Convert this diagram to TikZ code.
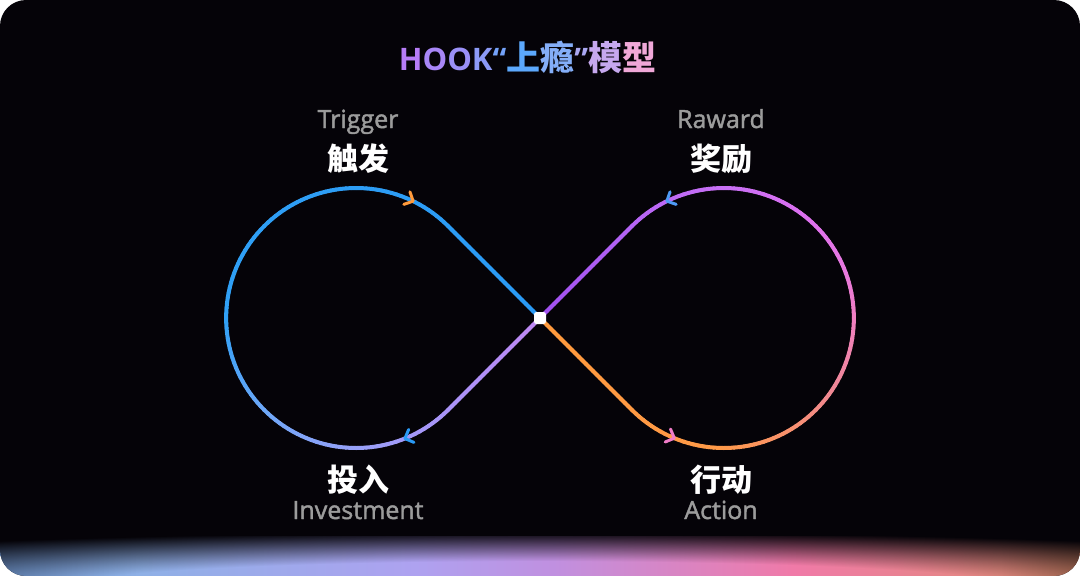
\documentclass[tikz,border=0pt]{standalone}
\usepackage{fontspec}
\newfontfamily\cjk{Noto Sans CJK SC}
\newfontfamily\lat{Open Sans}
\newfontfamily\latm{Open Sans}[FakeBold=1.6]
\usetikzlibrary{calc,fadings}
\definecolor{bg}{HTML}{050308}
\definecolor{labgray}{HTML}{9C9C9C}
% path gradient stops
\definecolor{q0}{HTML}{FF9A3C}
\definecolor{q1}{HTML}{FF9A48}
\definecolor{q2}{HTML}{F89070}
\definecolor{q3}{HTML}{F08898}
\definecolor{q4}{HTML}{F080C0}
\definecolor{q5}{HTML}{E878E0}
\definecolor{q6}{HTML}{DC70F0}
\definecolor{q7}{HTML}{C870F5}
\definecolor{q8}{HTML}{B464F5}
\definecolor{q9}{HTML}{A050F0}
\definecolor{q10}{HTML}{C088F2}
\definecolor{q11}{HTML}{B090F8}
\definecolor{q12}{HTML}{A498F8}
\definecolor{q13}{HTML}{98A0F8}
\definecolor{q14}{HTML}{70A8F8}
\definecolor{q15}{HTML}{30A0F5}
\definecolor{q16}{HTML}{2A9AF5}
% title colours
\definecolor{t1}{HTML}{B67CF7}
\definecolor{t2}{HTML}{A886F7}
\definecolor{t3}{HTML}{9A90F7}
\definecolor{t4}{HTML}{8C9AF7}
\definecolor{t5}{HTML}{74A2F9}
\definecolor{t6}{HTML}{5CA8FC}
\definecolor{t7}{HTML}{84AEF8}
\definecolor{t8}{HTML}{AAA8F2}
\definecolor{t9}{HTML}{C6A8EE}
\definecolor{t10}{HTML}{F0A8D8}
% arrow colours
\definecolor{aorange}{HTML}{FF9A3C}
\definecolor{apink}{HTML}{F07CC8}
\definecolor{ablue}{HTML}{4E9AF5}
\definecolor{ablue2}{HTML}{2A9AF5}
% glow colours
\definecolor{g0}{HTML}{7096CC}
\definecolor{g1}{HTML}{8EB0E6}
\definecolor{g2}{HTML}{AEA2F0}
\definecolor{g3}{HTML}{C090E0}
\definecolor{g4}{HTML}{F07AA8}
\definecolor{g5}{HTML}{E2887E}
\definecolor{g6}{HTML}{C07A5E}
\pgfdeclarehorizontalshading{glowh}{100bp}{color(0bp)=(g0); color(25bp)=(g0); color(31.4bp)=(g1); color(44.2bp)=(g2); color(50.6bp)=(g3); color(61.7bp)=(g4); color(71.3bp)=(g5); color(75bp)=(g6); color(100bp)=(g6)}
\pgfdeclareradialshading{glowmasksh}{\pgfpointorigin}{color(0bp)=(black); color(12bp)=(black); color(25bp)=(white); color(50bp)=(white)}
\tikzfading[name=glowmask, shading=glowmasksh]

\newcommand\pmix[4]{\pgfmathsetmacro\pcP{max(0,min(100,(\pcS-#1)/(#2-#1)*100))}\colorlet{cc}{#4!\pcP!#3}}
\newcommand\pcol[1]{\edef\pcS{#1}%
\ifdim\pcS pt<0.13pt \pmix{0}{0.13}{q0}{q1}\else
\ifdim\pcS pt<0.175pt \pmix{0.13}{0.175}{q1}{q2}\else
\ifdim\pcS pt<0.21pt \pmix{0.175}{0.21}{q2}{q3}\else
\ifdim\pcS pt<0.25pt \pmix{0.21}{0.25}{q3}{q4}\else
\ifdim\pcS pt<0.28pt \pmix{0.25}{0.28}{q4}{q5}\else
\ifdim\pcS pt<0.32pt \pmix{0.28}{0.32}{q5}{q6}\else
\ifdim\pcS pt<0.367pt \pmix{0.32}{0.367}{q6}{q7}\else
\ifdim\pcS pt<0.43pt \pmix{0.367}{0.43}{q7}{q8}\else
\ifdim\pcS pt<0.5pt \pmix{0.43}{0.5}{q8}{q9}\else
\ifdim\pcS pt<0.55pt \pmix{0.5}{0.55}{q10}{q11}\else
\ifdim\pcS pt<0.6pt \pmix{0.55}{0.6}{q11}{q12}\else
\ifdim\pcS pt<0.633pt \pmix{0.6}{0.633}{q12}{q13}\else
\ifdim\pcS pt<0.69pt \pmix{0.633}{0.69}{q13}{q14}\else
\ifdim\pcS pt<0.75pt \pmix{0.69}{0.75}{q14}{q15}\else
\pmix{0.75}{1}{q15}{q16}%
\fi\fi\fi\fi\fi\fi\fi\fi\fi\fi\fi\fi\fi\fi}

\begin{document}
\begin{tikzpicture}[x=1pt,y=1pt,
  seg/.style={line width=4pt, line cap=round},
  arr/.style={line width=3pt, line cap=round, line join=round},
  lab/.style={font=\latm\fontsize{25}{28}\selectfont, text=labgray, inner sep=0pt, anchor=base},
  zh/.style={font=\cjk\bfseries\fontsize{31}{34}\selectfont, text=white, inner sep=0pt, anchor=base}]
\useasboundingbox (0,0) rectangle (1080,-576);
\fill[white] (0,0) rectangle (1080,-576);
\begin{scope}
  \clip[rounded corners=26pt] (0,0) rectangle (1080,-576);
  \fill[bg] (0,0) rectangle (1080,-576);
  \shade[shading=glowh] (0,-536) rectangle (1080,-576);
  \fill[bg, path fading=glowmask] (-460,-532) rectangle (1540,-644);
\end{scope}

\coordinate (C) at (540,-318);
\coordinate (R) at (723.85,-318);
\coordinate (L) at (356.15,-318);

% A: centre to right loop
\foreach \i in {0,...,25}{
  \pgfmathsetmacro\uA{5*\i}\pgfmathsetmacro\uB{5*\i+5}
  \pgfmathsetmacro\sm{(\uA+2.5)/1745.22}
  \pcol{\sm}
  \draw[seg, cc] ($(C)+(-45:\uA pt)$) -- ($(C)+(-45:\uB pt)$);
}
% B: right loop arc
\foreach \i in {0,...,119}{
  \pgfmathsetmacro\aA{225+2.25*\i}\pgfmathsetmacro\aB{\aA+2.25}
  \pgfmathsetmacro\sm{(130+(\i+0.5)*5.10508)/1745.22}
  \pcol{\sm}
  \draw[seg, cc] (R) ++(\aA:130pt) arc[start angle=\aA, end angle=\aB, radius=130pt];
}
% Cl: right loop back to centre
\foreach \i in {0,...,25}{
  \pgfmathsetmacro\uA{130-5*\i}\pgfmathsetmacro\uB{125-5*\i}
  \pgfmathsetmacro\sm{(742.61+5*\i+2.5)/1745.22}
  \pcol{\sm}
  \draw[seg, cc] ($(C)+(45:\uA pt)$) -- ($(C)+(45:\uB pt)$);
}
% D: centre to left loop
\foreach \i in {0,...,25}{
  \pgfmathsetmacro\uA{5*\i}\pgfmathsetmacro\uB{5*\i+5}
  \pgfmathsetmacro\sm{(872.61+\uA+2.5)/1745.22}
  \pcol{\sm}
  \draw[seg, cc] ($(C)+(225:\uA pt)$) -- ($(C)+(225:\uB pt)$);
}
% E: left loop arc
\foreach \i in {0,...,119}{
  \pgfmathsetmacro\aA{-45-2.25*\i}\pgfmathsetmacro\aB{\aA-2.25}
  \pgfmathsetmacro\sm{(1002.61+(\i+0.5)*5.10508)/1745.22}
  \pcol{\sm}
  \draw[seg, cc] (L) ++(\aA:130pt) arc[start angle=\aA, end angle=\aB, radius=130pt];
}
% El: left loop back to centre
\foreach \i in {0,...,25}{
  \pgfmathsetmacro\uA{130-5*\i}\pgfmathsetmacro\uB{125-5*\i}
  \pgfmathsetmacro\sm{(1615.22+5*\i+2.5)/1745.22}
  \pcol{\sm}
  \draw[seg, cc] ($(C)+(135:\uA pt)$) -- ($(C)+(135:\uB pt)$);
}

\node[fill=white, minimum size=12pt, inner sep=0pt, rounded corners=2.5pt] (hub) at (C) {};

% arrowheads
\path (L) ++(64:130pt) coordinate (atl);
\path (L) ++(-68:130pt) coordinate (abl);
\path (R) ++(116:130pt) coordinate (atr);
\path (R) ++(247.6:130pt) coordinate (abr);
\draw[arr, aorange, shift={(atl)}, rotate=-26] (-7,7) -- (0,0) -- (-7,-7);
\draw[arr, ablue2, shift={(abl)}, rotate=202] (-7,7) -- (0,0) -- (-7,-7);
\draw[arr, ablue, shift={(atr)}, rotate=206] (-7,7) -- (0,0) -- (-7,-7);
\draw[arr, apink, shift={(abr)}, rotate=-22.4] (-7,7) -- (0,0) -- (-7,-7);

% title
\node[anchor=base, inner sep=0pt] (title) at (527.5,-70)
 {{\lat\bfseries\fontsize{31}{36}\selectfont\textcolor{t1}{H}\textcolor{t2}{O}\textcolor{t3}{O}\textcolor{t4}{K}\textcolor{t5}{“}}%
  {\cjk\bfseries\fontsize{34}{38}\selectfont\textcolor{t6}{上}\textcolor{t7}{瘾}}%
  {\lat\bfseries\fontsize{31}{36}\selectfont\textcolor{t8}{”}}%
  {\cjk\bfseries\fontsize{34}{38}\selectfont\textcolor{t9}{模}\textcolor{t10}{型}}};

% labels
\node[lab] (trig) at (358,-128) {Trigger};
\node[zh] (chufa) at (358,-170) {触发};
\node[lab] (rew) at (721,-128) {Raward};
\node[zh] (jiangli) at (721,-170) {奖励};
\node[zh] (touru) at (358,-491) {投入};
\node[lab] (inv) at (358,-519) {Investment};
\node[zh] (xingdong) at (721,-491) {行动};
\node[lab] (act) at (721,-519) {Action};
\end{tikzpicture}
\end{document}
